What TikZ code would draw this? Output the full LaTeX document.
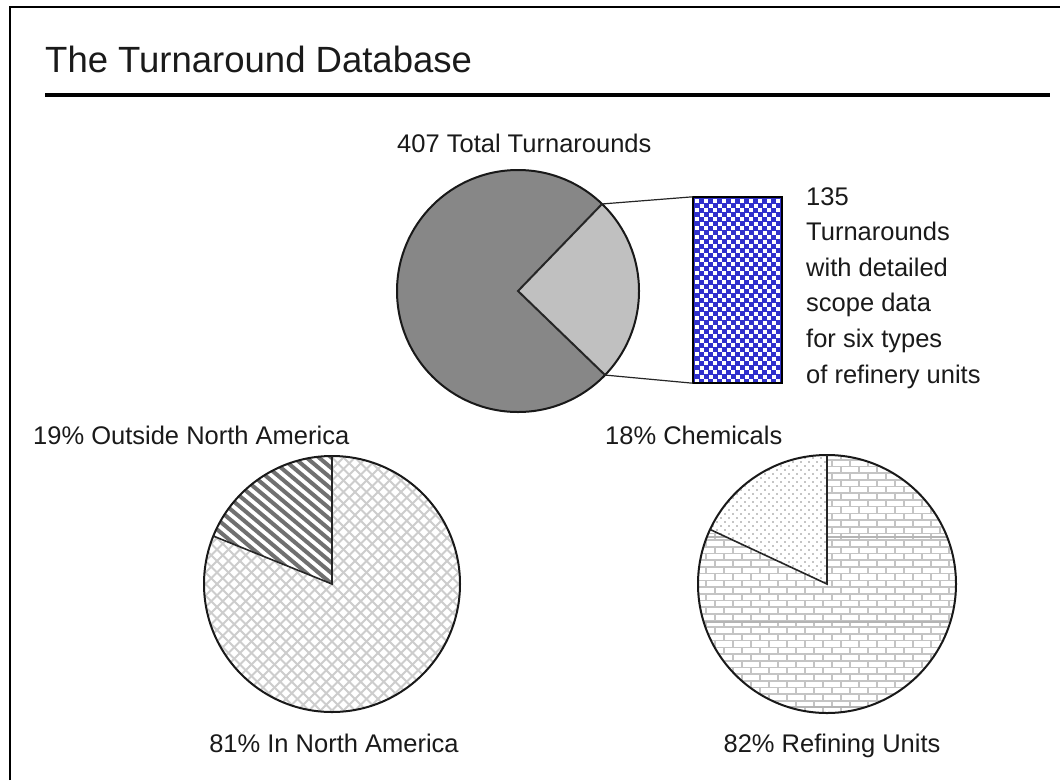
\documentclass[tikz,border=0pt]{standalone}
\usepackage{fontspec}
\setmainfont{Liberation Sans}
\definecolor{txt}{HTML}{1A1A1A}
\definecolor{darkg}{HTML}{878787}
\definecolor{lightg}{HTML}{C0C0C0}
\definecolor{blueck}{HTML}{3030CC}
\definecolor{hatchc}{HTML}{CDCDCD}
\definecolor{stripec}{HTML}{707070}
\definecolor{brickc}{HTML}{C4C4C4}
\definecolor{seamc}{HTML}{B4B4B4}
\definecolor{dotc}{HTML}{8A8A8A}
\begin{document}
\begin{tikzpicture}[x=1pt,y=-1pt,
  lbl/.style={font=\fontsize{25.5}{35.6}\selectfont, text=txt, inner sep=0pt},
  outline/.style={draw=black!90, line width=2pt},
  divider/.style={draw=black!85, line width=1.6pt},
  connector/.style={draw=black!85, line width=1.2pt},
  crossline/.style={draw=hatchc, line width=1.8pt},
  stripe/.style={draw=stripec, line width=4pt},
  brick/.style={draw=brickc, line width=1.6pt},
  seam/.style={draw=seamc, line width=2.5pt}]
\useasboundingbox (0,0) rectangle (1060,780);
\fill[white] (0,0) rectangle (1060,780);

% frame (left and top edges)
\coordinate (fbl) at (10,780);
\coordinate (ftl) at (10,7);
\coordinate (ftr) at (1060,7);
\draw[line width=2pt, black] (fbl) -- (ftl) -- (ftr);

% title and rule
\node[font=\fontsize{36.5}{40}\selectfont, text=txt, inner sep=0pt, anchor=base west] (title) at (45,72) {The Turnaround Database};
\coordinate (rl) at (45,95);
\coordinate (rr) at (1050,95);
\draw[line width=4pt, black] (rl) -- (rr);

% ---------------- top pie ----------------
\coordinate (tc) at (518,291);
\fill[darkg] (tc) circle[radius=121];
\fill[lightg] (tc) -- ++(-46:121) arc[start angle=-46,end angle=44,radius=121] -- cycle;
\path (tc) ++(-46:121) coordinate (w1);
\path (tc) ++(44:121) coordinate (w2);
\draw[outline] (tc) circle[radius=121];
\draw[divider, line width=2pt] (w1) -- (tc) -- (w2);
\node[lbl, anchor=base west] (total) at (397,152) {407 Total Turnarounds};

% checker box
\node[fill=blueck, minimum width=89pt, minimum height=186pt, inner sep=0pt] (box) at (737.5,290) {};
\begin{scope}
  \clip (693,197) rectangle (782,383);
  \foreach \i in {0,...,19} {
    \foreach \j in {0,2,...,40} {
      \fill[white] ({695+4.5*\i},{199+4.5*(\j+mod(\i,2))}) rectangle ++(4.3,4.3);
    }
  }
\end{scope}
\draw[line width=2pt, black] (box.north west) rectangle (box.south east);
\draw[connector] (w1) -- (box.north west);
\draw[connector] (w2) -- (box.south west);
\node[lbl, anchor=north west, align=left] (detail) at (806,187) {135\\Turnarounds\\with detailed\\scope data\\for six types\\of refinery units};

% ---------------- bottom-left pie ----------------
\coordinate (lc) at (332,584);
\begin{scope}
  \clip (lc) circle[radius=128];
  \foreach \k in {-28,...,28} {
    \draw[crossline] ({332+11.5*\k-160},{584-160}) -- ({332+11.5*\k+160},{584+160});
    \draw[crossline] ({332+11.5*\k+160},{584-160}) -- ({332+11.5*\k-160},{584+160});
  }
\end{scope}
\fill[white] (lc) -- ++(-158:128) arc[start angle=-158,end angle=-90,radius=128] -- cycle;
\begin{scope}
  \clip (lc) -- ++(-158:128) arc[start angle=-158,end angle=-90,radius=128] -- cycle;
  \foreach \k in {-25,...,25} {
    \draw[stripe] ({332+12.5*\k-200},{584-168}) -- ({332+12.5*\k+200},{584+168});
  }
\end{scope}
\path (lc) ++(-158:128) coordinate (l1);
\path (lc) ++(-90:128) coordinate (l2);
\draw[outline] (lc) circle[radius=128];
\draw[divider] (l1) -- (lc) -- (l2);
\node[lbl, anchor=base west] (outside) at (33,444) {19\% Outside North America};
\node[lbl, anchor=base] (inside) at (334,752) {81\% In North America};

% ---------------- bottom-right pie ----------------
\coordinate (rc) at (827,584);
\begin{scope}
  \clip (rc) circle[radius=129];
  \foreach \r in {0,...,40} {
    \draw[brick] (690,{453+6.7*\r}) -- (965,{453+6.7*\r});
    \foreach \m in {0,...,15} {
      \draw[brick] ({697+9*mod(\r,2)+18*\m},{453+6.7*\r}) -- ++(0,6.7);
    }
  }
  \draw[seam] (690,537) -- (965,537);
  \draw[seam] (690,622) -- (965,622);
  \draw[seam] (690,707) -- (965,707);
\end{scope}
\fill[white] (rc) -- ++(-155:129) arc[start angle=-155,end angle=-90,radius=129] -- cycle;
\begin{scope}
  \clip (rc) -- ++(-155:129) arc[start angle=-155,end angle=-90,radius=129] -- cycle;
  \foreach \r in {0,...,35} {
    \foreach \m in {0,...,17} {
      \fill[dotc] ({697+8*\m+4*mod(\r,2)},{454+4*\r}) circle[radius=0.9];
    }
  }
\end{scope}
\path (rc) ++(-155:129) coordinate (r1);
\path (rc) ++(-90:129) coordinate (r2);
\draw[outline] (rc) circle[radius=129];
\draw[divider] (r1) -- (rc) -- (r2);
\node[lbl, anchor=base west] (chem) at (605,444) {18\% Chemicals};
\node[lbl, anchor=base] (refin) at (832,752) {82\% Refining Units};
\end{tikzpicture}
\end{document}
